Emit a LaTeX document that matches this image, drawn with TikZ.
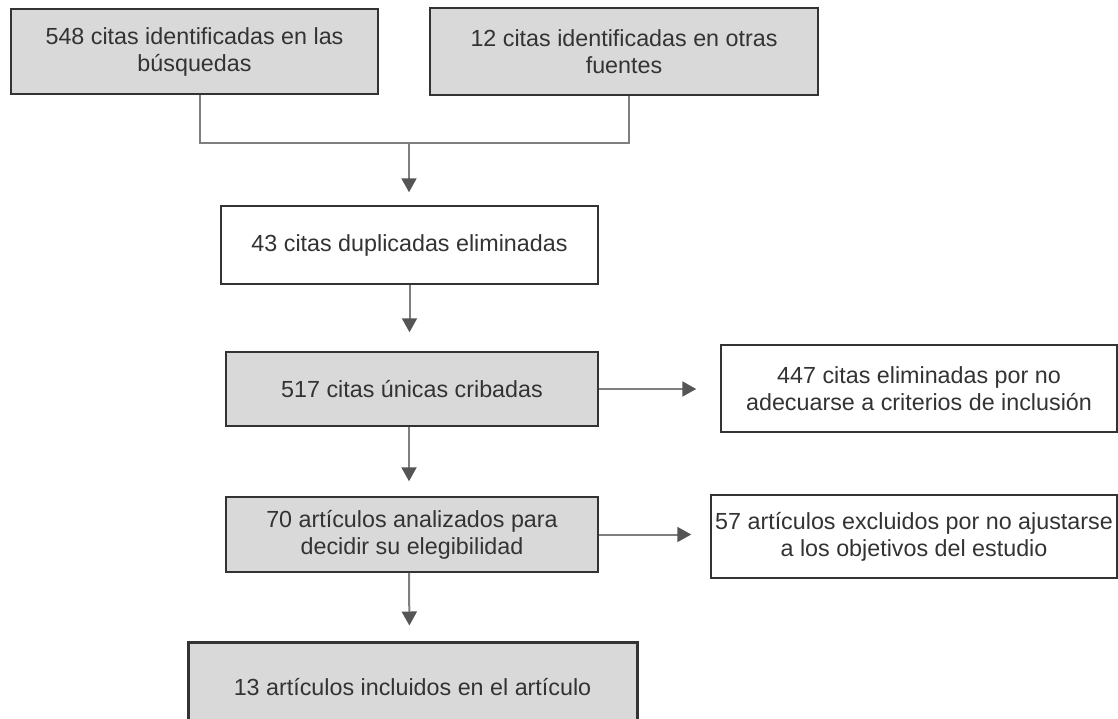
\documentclass[tikz,border=0pt]{standalone}
\usepackage{fontspec}
\setmainfont{Liberation Sans}
\usetikzlibrary{arrows.meta}
\definecolor{boxgray}{HTML}{D9D9D9}
\definecolor{linegray}{HTML}{7F7F7F}
\definecolor{tipgray}{HTML}{555555}
\definecolor{txtgray}{HTML}{333333}

\begin{document}
\begin{tikzpicture}[x=1pt, y=-1pt,
  box/.style={draw=black!80, line width=1.5pt, align=center, text=txtgray, inner sep=0pt, font=\fontsize{23.3}{27}\selectfont},
  shaded/.style={box, fill=boxgray},
  plain/.style={box, fill=white},
  link/.style={draw=linegray, line width=2pt},
  flow/.style={link, -{Triangle[width=15pt, length=14pt, color=tipgray]}, shorten >=15pt}]
\useasboundingbox (0,0) rectangle (1118,718);
\clip (0,0) rectangle (1118,718);
\node  (1)[shaded, minimum width=367pt, minimum height=85pt] at (194.5,51.5) {548 citas identificadas en las\\búsquedas};
\node  (2)[shaded, minimum width=388pt, minimum height=87pt] at (624,51.5) {12 citas identificadas en otras\\fuentes};
\node  (3)[plain, minimum width=377pt, minimum height=78pt] at (409.5,245) {43 citas duplicadas eliminadas};
\node  (4)[shaded, minimum width=372pt, minimum height=74pt] at (412,389) {517 citas únicas cribadas};
\node  (5)[plain, minimum width=396pt, minimum height=87pt] at (919,388.5) {447 citas eliminadas por no\\adecuarse a criterios de inclusión};
\node  (6)[shaded, minimum width=372pt, minimum height=75pt] at (412,534.5) {70 artículos analizados para\\decidir su elegibilidad};
\node  (7)[plain, minimum width=406pt, minimum height=83pt] at (914,536.5) {57 artículos excluidos por no ajustarse\\a los objetivos del estudio};
\node  (8)[shaded, line width=3pt, minimum width=449pt, minimum height=90pt] at (412.5,687) {13 artículos incluidos en el artículo};
\coordinate (j) at (409,143);
\draw[link] ([xshift=5.5pt]1.south) |- (j) -| ([xshift=5pt]2.south);
\draw[flow, shorten >=13pt] (j) -- (j |- 3.north);
\draw[flow, shorten >=19pt] (3.south) -- (3.south |- 4.north);
\draw[flow, shorten >=24pt] (4.east) -- (4.east -| 5.west);
\draw[flow] ([xshift=-3pt]4.south) -- ([xshift=-3pt]6.north);
\draw[flow, shorten >=19pt] (6.east) -- (6.east -| 7.west);
\draw[flow] ([xshift=-3pt]6.south) -- ([xshift=-3pt]8.north);
\end{tikzpicture}
\end{document}
